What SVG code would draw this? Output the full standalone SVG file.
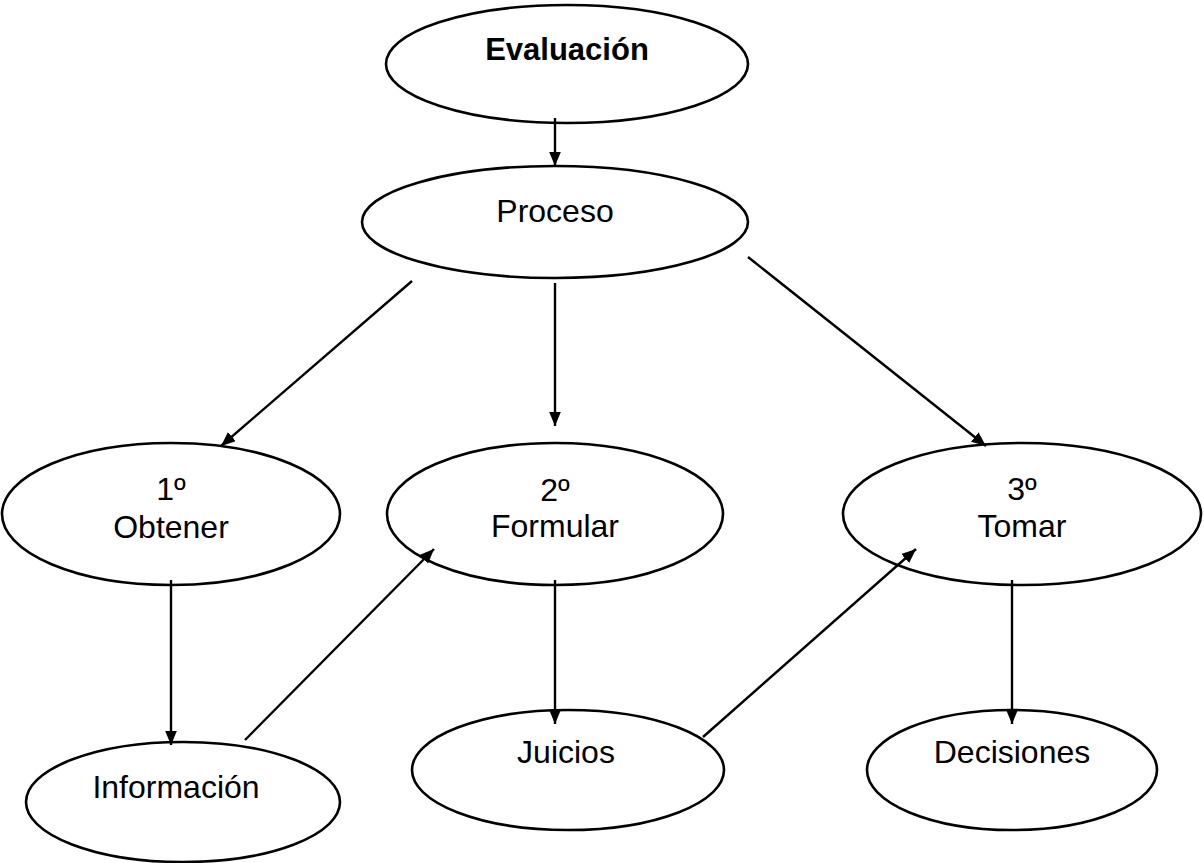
<svg xmlns="http://www.w3.org/2000/svg" width="1204" height="863" viewBox="0 0 1204 863">
<style>
.n{fill:#fff;stroke:#000;stroke-width:2.6}
.t{font-family:"Liberation Sans",Arial,sans-serif;font-size:32px;fill:#000;text-anchor:middle}
.b{font-weight:bold;font-size:31px}
.c line{stroke:#000;stroke-width:2.4;marker-end:url(#ah)}
</style>
<defs>
<marker id="ah" viewBox="0 0 12 10" refX="12" refY="5" markerWidth="6" markerHeight="5" orient="auto" markerUnits="strokeWidth">
<path d="M0,0 L12,5 L0,10 Z" fill="#000"/>
</marker>
</defs>
<rect width="1204" height="863" fill="#fff"/>
<g id="n-evaluacion"><ellipse class="n" cx="567" cy="64" rx="181" ry="59"/><text class="t b" x="567" y="60">Evaluación</text></g>
<g id="n-proceso"><ellipse class="n" cx="555" cy="222" rx="193" ry="56"/><text class="t" x="555" y="222">Proceso</text></g>
<g id="n-obtener"><ellipse class="n" cx="171" cy="514" rx="169" ry="71"/><text class="t" x="171" y="500">1º</text><text class="t" x="171" y="538">Obtener</text></g>
<g id="n-formular"><ellipse class="n" cx="555" cy="514" rx="168" ry="71"/><text class="t" x="555" y="501">2º</text><text class="t" x="555" y="537">Formular</text></g>
<g id="n-tomar"><ellipse class="n" cx="1022" cy="514" rx="179" ry="71"/><text class="t" x="1022" y="500">3º</text><text class="t" x="1022" y="537">Tomar</text></g>
<g id="n-informacion"><ellipse class="n" cx="183" cy="802" rx="157" ry="60"/><text class="t" x="176" y="798">Información</text></g>
<g id="n-juicios"><ellipse class="n" cx="568" cy="770" rx="156" ry="60"/><text class="t" x="566" y="763">Juicios</text></g>
<g id="n-decisiones"><ellipse class="n" cx="1012" cy="770" rx="145" ry="60"/><text class="t" x="1012" y="763">Decisiones</text></g>
<g id="connectors" class="c">
<line x1="555" y1="118" x2="555" y2="166"/>
<line x1="412" y1="281" x2="221" y2="446"/>
<line x1="555" y1="283" x2="555" y2="426"/>
<line x1="748" y1="257" x2="986" y2="446"/>
<line x1="171" y1="580" x2="171" y2="745"/>
<line x1="245" y1="740" x2="434" y2="549"/>
<line x1="555" y1="580" x2="555" y2="724"/>
<line x1="703" y1="737" x2="916" y2="549"/>
<line x1="1012" y1="580" x2="1012" y2="724"/>
</g>
</svg>
